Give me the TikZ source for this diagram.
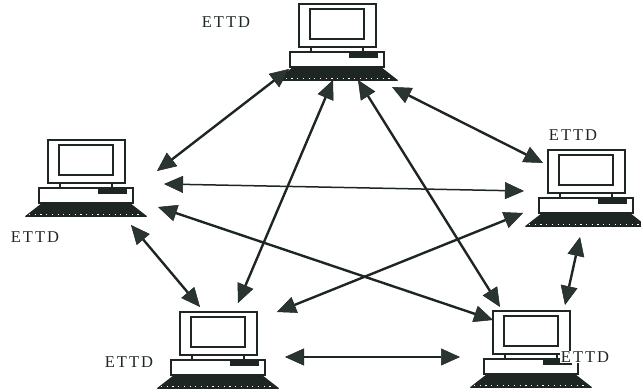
\documentclass[tikz,border=0pt]{standalone}
\usepackage{fontspec}
\setmainfont{Liberation Serif}
\newfontfamily\lblfont[LetterSpace=12]{Liberation Serif}
\usetikzlibrary{arrows.meta}

\definecolor{inkc}{HTML}{1E2624}
\definecolor{headc}{HTML}{2A3532}

\tikzset{
  % workstation icon, origin at the bottom centre of the keyboard
  computer/.pic={
    % keyboard
    \fill[inkc, rounded corners=1.5] (-62,0) -- (62,0) -- (44,-14) -- (-44,-14) -- cycle;
    \draw[white, line width=0.7, dash pattern=on 1.2 off 4.5] (-57,-2.5) -- (57,-2.5);
    % system unit with drive slot
    \draw[inkc, line width=1.3, fill=white] (-47,-29) rectangle (47,-14);
    \fill[inkc] (12,-28) rectangle (41,-23);
    % monitor stand
    \draw[inkc, line width=1.3] (-26,-34) -- (-26,-29) (26,-34) -- (26,-29);
    % monitor and screen
    \draw[inkc, line width=1.8, fill=white] (-38,-77) rectangle (39,-34);
    \draw[inkc, line width=1.8] (-27,-72) rectangle (27,-42);
  },
  lbl/.style={font=\lblfont\fontsize{16.5}{17}\selectfont, text=inkc, inner sep=1pt},
  link/.style={inkc, line width=2.4pt,
    {Triangle[length=19pt,width=17pt,fill=headc,line width=0.5pt]}-{Triangle[length=19pt,width=17pt,fill=headc,line width=0.5pt]}},
  thinlink/.style={link, line width=1.5pt},
}

\begin{document}
\begin{tikzpicture}[x=1pt, y=-1pt]
\useasboundingbox (0,0) rectangle (641,390);

% workstations
\pic (top)   at (337,81)  {computer};
\pic (left)  at (86,217)  {computer};
\pic (right) at (586,227) {computer};
\pic (bl)    at (218,389) {computer};
\pic (br)    at (531,388) {computer};

% labels
\node[lbl] (ltop)   at (226,22)  {ETTD};
\node[lbl] (lleft)  at (35,237)  {ETTD};
\node[lbl] (lright) at (573,135) {ETTD};
\node[lbl] (lbl)    at (129,362) {ETTD};
\node[lbl, fill=white] (lbr) at (585,357) {ETTD};

% link end points
\coordinate (top-l)   at (289,69);
\coordinate (left-t)  at (157,171);
\coordinate (top-r)   at (392,87);
\coordinate (right-t) at (543,163);
\coordinate (top-bl)  at (333,80);
\coordinate (bl-t)    at (238,303);
\coordinate (top-br)  at (358,80);
\coordinate (br-t)    at (500,307);
\coordinate (left-r)  at (164,184);
\coordinate (right-l) at (524,191);
\coordinate (left-br) at (158,207);
\coordinate (br-l)    at (493,320);
\coordinate (left-bl) at (131,225);
\coordinate (bl-l)    at (200,307);
\coordinate (right-bl) at (523,213);
\coordinate (bl-r)    at (277,312);
\coordinate (right-br) at (580,237);
\coordinate (br-r)    at (565,305);
\coordinate (bl-br)   at (285,357);
\coordinate (br-bl)   at (460,357);

% full mesh of links
\draw[link] (top-l) -- (left-t);
\draw[link] (top-r) -- (right-t);
\draw[link] (top-bl) -- (bl-t);
\draw[link] (top-br) -- (br-t);
\draw[thinlink] (left-r) -- (right-l);
\draw[link] (left-br) -- (br-l);
\draw[link] (left-bl) -- (bl-l);
\draw[link] (right-bl) -- (bl-r);
\draw[link] (right-br) -- (br-r);
\draw[thinlink] (bl-br) -- (br-bl);
\end{tikzpicture}
\end{document}
